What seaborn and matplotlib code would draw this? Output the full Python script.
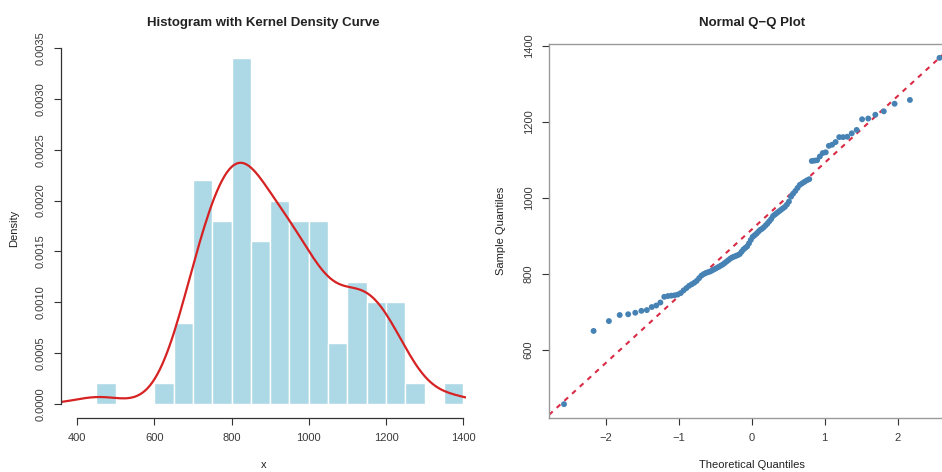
import numpy as np
import pandas as pd
import matplotlib
matplotlib.use("Agg")
import matplotlib.pyplot as plt
import seaborn as sns
from statistics import NormalDist

sns.set_theme(style="white")
plt.rcParams["font.family"] = ["Liberation Sans", "DejaVu Sans"]

# ---- data ----
sample_values = [
    456, 649, 675, 691, 693, 697,
    702, 704, 712, 716, 724, 739, 741, 742, 743, 745, 749,
    756, 762, 768, 772, 776, 781, 788, 795, 799,
    802, 804, 806, 809, 812, 815, 818, 821, 824, 828, 832, 836, 840, 843, 845, 847, 849,
    852, 858, 864, 868, 872, 880, 889, 897,
    901, 905, 910, 915, 918, 922, 927, 932, 938, 944,
    952, 956, 960, 964, 968, 972, 976, 982, 990,
    1003, 1011, 1018, 1026, 1034, 1038, 1042, 1046, 1049,
    1097, 1098, 1099,
    1109, 1118, 1120, 1137, 1140, 1147,
    1160, 1160, 1161, 1170, 1179,
    1207, 1209, 1219, 1228, 1248,
    1258,
    1369,
]
bin_edges = list(range(450, 1401, 50))
hist_xticks = [400, 600, 800, 1000, 1200, 1400]
hist_yticks = [0.0000, 0.0005, 0.0010, 0.0015, 0.0020, 0.0025, 0.0030, 0.0035]
qq_xticks = [-2, -1, 0, 1, 2]
qq_yticks = [600, 800, 1000, 1200, 1400]

W, H = 942, 472
fig = plt.figure(figsize=(W / 100, H / 100), dpi=100)
fig.patch.set_facecolor("white")


def px_axes(l, t, r, b):
    return fig.add_axes([l / W, 1 - b / H, (r - l) / W, (b - t) / H])


axis_col = "#333333"
tick_kw = dict(direction="out", length=5, width=0.8, color=axis_col,
               labelsize=8, labelcolor="#3a3a3a", bottom=True, left=True)

# ---------------- left: histogram + KDE ----------------
ax1 = px_axes(61, 34, 466, 418)
sns.histplot(x=sample_values, bins=bin_edges, stat="density", color="#ADD8E6",
             edgecolor="white", linewidth=1, alpha=1, ax=ax1)
vals = np.asarray(sample_values, dtype=float)
sd = vals.std(ddof=1)
q75, q25 = np.percentile(vals, [75, 25])
bw_adj = 0.9 * min(sd, (q75 - q25) / 1.34) / sd
sns.kdeplot(x=sample_values, bw_adjust=bw_adj, cut=3, color="#D62222",
            linewidth=1.6, ax=ax1)
ax1.set_xlim(358.5, 1407)
ax1.set_ylim(-0.00014, 0.00364)
for s in ("top", "right"):
    ax1.spines[s].set_visible(False)
for s in ("left", "bottom"):
    ax1.spines[s].set_color(axis_col)
    ax1.spines[s].set_linewidth(0.9)
ax1.spines["left"].set_bounds(0, 0.0035)
ax1.spines["bottom"].set_bounds(400, 1400)
ax1.set_xticks(hist_xticks)
ax1.set_xticklabels([str(v) for v in hist_xticks])
ax1.set_yticks(hist_yticks)
ax1.set_yticklabels([f"{v:.4f}" for v in hist_yticks])
ax1.tick_params(axis="both", **tick_kw)
ax1.tick_params(axis="x", pad=6)
ax1.tick_params(axis="y", pad=6, labelrotation=90)
for lbl in ax1.get_yticklabels():
    lbl.set_va("center")
ax1.set_xlabel("")
ax1.set_ylabel("")
ax1.grid(False)

# ---------------- right: normal Q-Q plot ----------------
n = len(sample_values)
nd = NormalDist()
probs = (np.arange(1, n + 1) - 0.5) / n
theo = np.array([nd.inv_cdf(p) for p in probs])
qq = pd.DataFrame({"theoretical": theo, "sample": np.sort(vals)})

ax2 = px_axes(549, 44, 954.5, 418)
sns.scatterplot(data=qq, x="theoretical", y="sample", color="#4682B4", s=18,
                edgecolor="none", ax=ax2, zorder=3)
z1, z3 = nd.inv_cdf(0.25), nd.inv_cdf(0.75)
slope = (q75 - q25) / (z3 - z1)
intercept = q25 - slope * z1
ax2.axline((0, intercept), slope=slope, color="#D92B45", linewidth=1.5,
           linestyle=(0, (2.4, 2.6)), zorder=2)
tr = theo.max() - theo.min()
ax2.set_xlim(theo.min() - 0.04 * tr, theo.max() + 0.04 * tr)
yr = vals.max() - vals.min()
ax2.set_ylim(vals.min() - 0.04 * yr, vals.max() + 0.04 * yr)
for s in ax2.spines.values():
    s.set_color("#9a9a9a")
    s.set_linewidth(1.0)
ax2.set_xticks(qq_xticks)
ax2.set_yticks(qq_yticks)
ax2.tick_params(axis="both", **tick_kw)
ax2.tick_params(axis="x", pad=6)
ax2.tick_params(axis="y", pad=6, labelrotation=90)
for lbl in ax2.get_yticklabels():
    lbl.set_va("center")
ax2.set_xlabel("")
ax2.set_ylabel("")
ax2.grid(False)

# ---------------- titles and axis labels ----------------
def ftext(x, y, s, **kw):
    fig.text(x / W, 1 - y / H, s, ha="center", va="center", color="#222222", **kw)

ftext(263.5, 23, "Histogram with Kernel Density Curve", fontsize=9.5, fontweight="bold")
ftext(751.7, 23, "Normal Q\u2212Q Plot", fontsize=9.5, fontweight="bold")
ftext(263.5, 465, "x", fontsize=8)
ftext(14, 228, "Density", fontsize=8, rotation=90)
ftext(751.7, 465, "Theoretical Quantiles", fontsize=8)
ftext(501, 231, "Sample Quantiles", fontsize=8, rotation=90)

fig.savefig("out.png", dpi=100, facecolor="white")
